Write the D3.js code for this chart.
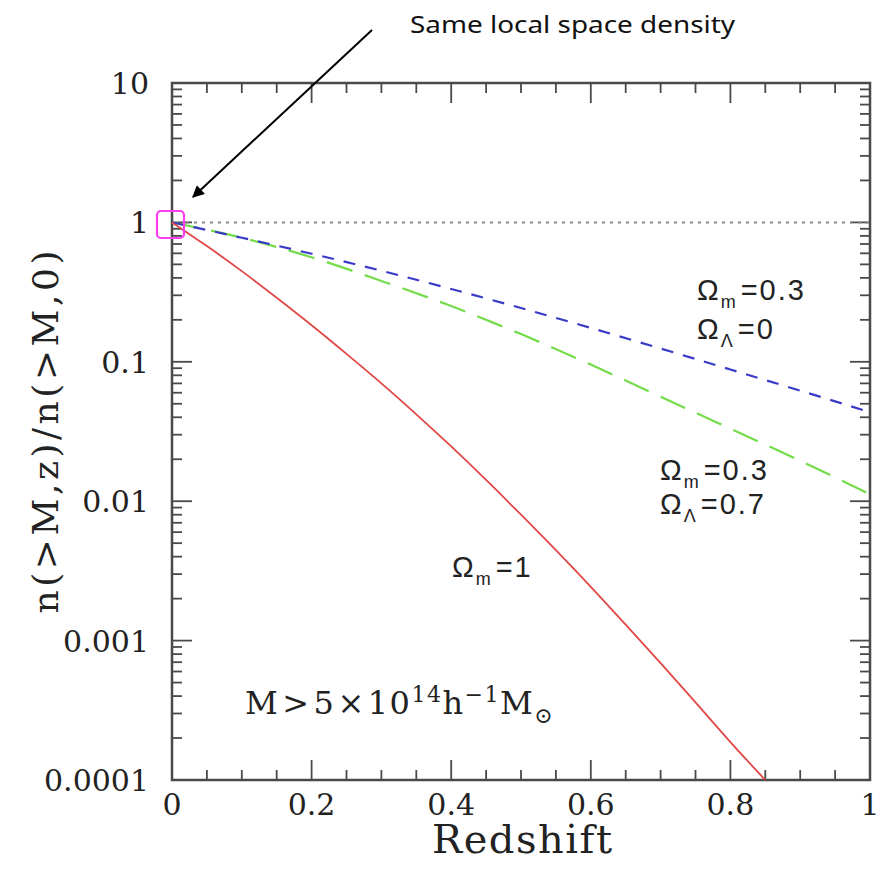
<!DOCTYPE html>
<html>
<head>
<meta charset="utf-8">
<script src="https://cdn.jsdelivr.net/npm/d3@7"></script>
<style>
  body { margin: 0; background: #fff; }
</style>
</head>
<body>
<script>

// DATI

var zRed = [0, 0.05, 0.1, 0.15, 0.2, 0.25, 0.3, 0.35, 0.4, 0.45, 0.5, 0.55, 0.6, 0.65, 0.7, 0.75, 0.8, 0.85];
var omegaM1 = [1, 0.676, 0.447, 0.288, 0.183, 0.114, 0.07, 0.042, 0.0247, 0.0142, 0.008, 0.00445, 0.00243, 0.0013, 0.00069, 0.00036, 0.000187, 0.0001];

var zLow = [0, 0.1, 0.2, 0.3, 0.4, 0.5, 0.6, 0.7, 0.8, 0.9, 1];
var openModel = [1, 0.776, 0.596, 0.45, 0.333, 0.243, 0.175, 0.1245, 0.088, 0.0621, 0.0435];
var lambdaModel = [1, 0.776, 0.562, 0.38, 0.251, 0.158, 0.0955, 0.0562, 0.0331, 0.0195, 0.0112];

var xTickLabels = ["0", "0.2", "0.4", "0.6", "0.8", "1"];
var xTicks = [0, 0.2, 0.4, 0.6, 0.8, 1];
var yTickLabels = ["0.0001", "0.001", "0.01", "0.1", "1", "10"];
var yTicks = [0.0001, 0.001, 0.01, 0.1, 1, 10];


// INIZIALIZZA L'SVG

var width = 888, height = 876;
var plotLeft = 172, plotRight = 870, plotTop = 83, plotBottom = 780;

var svg = d3.select("body")
    .append("svg")
    .attr("width", width)
    .attr("height", height);

var x = d3.scaleLinear().domain([0, 1]).range([plotLeft, plotRight]);
var y = d3.scaleLog().domain([0.0001, 10]).range([plotBottom, plotTop]);

var frameColor = "#4a4a4a";
var serif = "'DejaVu Serif', serif";
var sans = "'Liberation Sans', Arial, sans-serif";


// TACCHE (MAGGIORI E MINORI) SU TUTTI E QUATTRO I LATI

var majorLen = 20, minorLen = 10;
var xMinor = d3.range(0, 1.0001, 0.05).filter(function(d) { return Math.abs(d * 5 - Math.round(d * 5)) > 1e-6; });
var yMinor = [];
for (var k = -4; k < 1; k++) {
    for (var m = 2; m < 10; m++) yMinor.push(m * Math.pow(10, k));
}

var ticks = svg.append("g")
    .attr("stroke", frameColor)
    .attr("stroke-width", 1.8);

function xTick(v, len) {
    ticks.append("line").attr("x1", x(v)).attr("x2", x(v)).attr("y1", plotBottom).attr("y2", plotBottom - len);
    ticks.append("line").attr("x1", x(v)).attr("x2", x(v)).attr("y1", plotTop).attr("y2", plotTop + len);
}
function yTick(v, len) {
    ticks.append("line").attr("y1", y(v)).attr("y2", y(v)).attr("x1", plotLeft).attr("x2", plotLeft + len);
    ticks.append("line").attr("y1", y(v)).attr("y2", y(v)).attr("x1", plotRight).attr("x2", plotRight - len);
}
xTicks.forEach(function(v) { xTick(v, majorLen); });
xMinor.forEach(function(v) { xTick(v, minorLen); });
yTicks.forEach(function(v) { yTick(v, majorLen); });
yMinor.forEach(function(v) { yTick(v, minorLen); });


// CORNICE

svg.append("rect")
    .attr("x", plotLeft)
    .attr("y", plotTop)
    .attr("width", plotRight - plotLeft)
    .attr("height", plotBottom - plotTop)
    .attr("fill", "none")
    .attr("stroke", frameColor)
    .attr("stroke-width", 2.5);


// ETICHETTE DEGLI ASSI

svg.selectAll(".xlab")
    .data(xTicks)
    .enter().append("text")
    .attr("x", function(d) { return x(d); })
    .attr("y", 815)
    .attr("text-anchor", "middle")
    .attr("font-family", serif)
    .attr("font-size", "30px")
    .attr("fill", "#222")
    .text(function(d, i) { return xTickLabels[i]; });

svg.selectAll(".ylab")
    .data(yTicks)
    .enter().append("text")
    .attr("x", 149)
    .attr("y", function(d) { return y(d) + 11; })
    .attr("text-anchor", "end")
    .attr("font-family", serif)
    .attr("font-size", "30px")
    .attr("fill", "#222")
    .text(function(d, i) { return yTickLabels[i]; });

svg.append("text")
    .attr("x", 432)
    .attr("y", 853)
    .attr("font-family", serif)
    .attr("font-size", "40px")
    .attr("fill", "#222")
    .attr("textLength", 180)
    .attr("lengthAdjust", "spacing")
    .text("Redshift");

svg.append("text")
    .attr("transform", "translate(58,432) rotate(-90)")
    .attr("text-anchor", "middle")
    .attr("font-family", serif)
    .attr("font-size", "36px")
    .attr("fill", "#222")
    .attr("textLength", 363)
    .attr("lengthAdjust", "spacing")
    .text("n(>M,z)/n(>M,0)");


// LINEA PUNTEGGIATA A 1

svg.append("line")
    .attr("x1", x(0.02))
    .attr("x2", x(1))
    .attr("y1", y(1))
    .attr("y2", y(1))
    .attr("stroke", "#888")
    .attr("stroke-width", 2)
    .attr("stroke-dasharray", "3,5");


// CURVE

var line = d3.line()
    .x(function(d) { return x(d[0]); })
    .y(function(d) { return y(d[1]); })
    .curve(d3.curveMonotoneX);

svg.append("path")
    .attr("d", line(d3.zip(zLow, lambdaModel)))
    .attr("fill", "none")
    .attr("stroke", "#74dc4a")
    .attr("stroke-width", 2.2)
    .attr("stroke-dasharray", "27,13");

svg.append("path")
    .attr("d", line(d3.zip(zLow, openModel)))
    .attr("fill", "none")
    .attr("stroke", "#3a3ac8")
    .attr("stroke-width", 2.2)
    .attr("stroke-dasharray", "12,10");

svg.append("path")
    .attr("d", line(d3.zip(zRed, omegaM1)))
    .attr("fill", "none")
    .attr("stroke", "#e04848")
    .attr("stroke-width", 1.8);


// ETICHETTE DEI MODELLI

function omegaLabel(px, py, sub, value) {
    var t = svg.append("text")
        .attr("x", px)
        .attr("y", py)
        .attr("font-family", sans)
        .attr("font-size", "29px")
        .attr("letter-spacing", "2px")
        .attr("fill", "#222");
    t.append("tspan").text("\u03A9");
    t.append("tspan").attr("dy", 8).attr("font-size", "18px").text(sub);
    t.append("tspan").attr("dy", -8).attr("dx", 3).text("=" + value);
}

omegaLabel(697, 300, "m", "0.3");
omegaLabel(697, 339, "\u039B", "0");
omegaLabel(660, 480, "m", "0.3");
omegaLabel(660, 514, "\u039B", "0.7");
omegaLabel(452, 577, "m", "1");


// SOGLIA DI MASSA

var mass = svg.append("text")
    .attr("x", 245)
    .attr("y", 714)
    .attr("font-family", serif)
    .attr("font-size", "32px")
    .attr("letter-spacing", "1.5px")
    .attr("fill", "#222");
mass.append("tspan").text("M");
mass.append("tspan").attr("dx", 3).text(">");
mass.append("tspan").attr("dx", 3).text("5");
mass.append("tspan").attr("dx", 2).text("\u00D7");
mass.append("tspan").attr("dx", 2).text("10");
mass.append("tspan").attr("dy", -12).attr("font-size", "22px").text("14");
mass.append("tspan").attr("dy", 12).text("h");
mass.append("tspan").attr("dy", -12).attr("font-size", "22px").text("\u22121");
mass.append("tspan").attr("dy", 12).text("M");
mass.append("tspan").attr("dy", 9).attr("font-size", "22px").text("\u2299");


// RIQUADRO MAGENTA E FRECCIA

svg.append("rect")
    .attr("x", 157)
    .attr("y", 211)
    .attr("width", 27)
    .attr("height", 27)
    .attr("rx", 4)
    .attr("fill", "none")
    .attr("stroke", "#ff3cf0")
    .attr("stroke-width", 2.2);

svg.append("defs").append("marker")
    .attr("id", "head")
    .attr("viewBox", "0 0 10 10")
    .attr("refX", 9)
    .attr("refY", 5)
    .attr("markerWidth", 16)
    .attr("markerHeight", 12)
    .attr("markerUnits", "userSpaceOnUse")
    .attr("orient", "auto")
    .append("path")
    .attr("d", "M0,0 L10,5 L0,10 z")
    .attr("fill", "#000");

svg.append("line")
    .attr("x1", 372)
    .attr("y1", 30)
    .attr("x2", 193)
    .attr("y2", 197)
    .attr("stroke", "#000")
    .attr("stroke-width", 2)
    .attr("marker-end", "url(#head)");

svg.append("text")
    .attr("x", 410)
    .attr("y", 33)
    .attr("font-family", "'Noto Sans', sans-serif")
    .attr("font-size", "23px")
    .attr("textLength", 325)
    .attr("lengthAdjust", "spacingAndGlyphs")
    .attr("fill", "#111")
    .text("Same local space density");

</script>
</body>
</html>
